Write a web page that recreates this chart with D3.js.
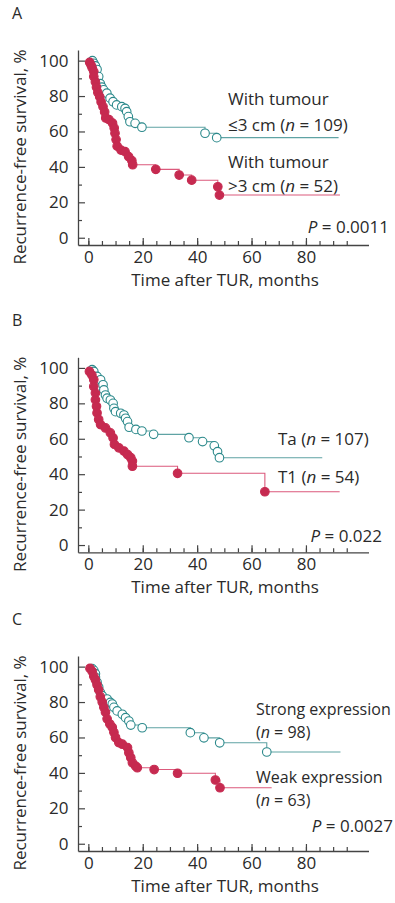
<!DOCTYPE html>
<html>
<head>
<meta charset="utf-8">
<script src="https://cdn.jsdelivr.net/npm/d3@7"></script>
<style>
  body { margin: 0; background: #fff; }
  svg text { font-family: 'Open Sans', 'DejaVu Sans', sans-serif; fill: #2a2a2a; }
</style>
</head>
<body>
<div id="chart"></div>
<script>
// survival points [months, %]
const sizeSmall = [[1.5,100],[2,98.5],[2.6,97],[3.2,95],[3.8,91],[4.4,87],[5,85],[5.6,83.5],[6.8,81.6],[8,78.8],[9.1,76.8],[10.4,75],[12.3,74],[13.5,73],[14.1,71.2],[14.7,68.4],[15.3,65.5],[17.2,64.6],[19.7,62.4],[42.9,59],[47.2,56.5]];
const sizeLarge = [[0.5,99],[1,97.5],[1.4,96],[2,93.8],[2,91],[2.6,88],[3,85],[3.5,82],[4.2,79.5],[4.7,76.7],[5.4,74],[6,71],[6.4,67.6],[7.6,66.7],[8.9,64.7],[9.5,62],[9.8,59],[10.2,55.4],[10.6,51.7],[12,49.5],[13.5,48.6],[14.8,45.8],[16,43.5],[16.3,41.2],[24.8,38.6],[33.4,35.4],[38,32.5],[47.6,28.8],[48.2,24.1]];
const stageTa = [[1.4,99],[2,98],[3.2,95.2],[4.5,93.3],[5.4,90.5],[5.7,87.6],[6.3,84.7],[6.9,82.9],[8.1,81.9],[9.1,80],[9.4,77.2],[10,75.3],[11.9,74.4],[13.1,73.4],[13.7,71.6],[14.4,69.7],[15,66.5],[17.5,65.3],[19.7,64.4],[24,62.5],[37,60.6],[42,58.4],[46.3,56],[47.5,52.7],[48.2,49.3]];
const stageT1 = [[0.4,98],[1.3,96],[2,93.3],[2,89.5],[2.6,85.8],[2.6,82],[3,78.3],[3.2,74.6],[3.8,70.9],[4.5,68],[6.3,66.1],[8.1,63.3],[9.1,60.5],[9.6,56.8],[11.2,54.9],[13.1,53],[14.4,51.1],[15.6,49.3],[16.2,47.4],[16.2,44.5],[32.8,40.5],[64.9,30.1]];
const exprStrong = [[1.4,98.9],[2,97.9],[2.6,96],[2.6,94.1],[3.2,91.2],[3.8,88.4],[4.4,85.5],[5.1,83.6],[6.9,81.7],[8.1,79.8],[8.8,78.9],[9.4,77],[10.6,75],[12.5,73.1],[13.7,71.2],[14.9,69.3],[15.6,67],[19.8,65.5],[37.5,62.7],[42.5,59.8],[48.3,57],[65.6,51.8]];
const exprWeak = [[0.6,99],[1.4,97.3],[2,94.5],[2.6,92.6],[3.2,89.7],[3.8,86.9],[4.4,83],[5.1,80],[5.7,77],[6.3,74.3],[6.9,70.5],[7.9,67.6],[8.8,65.7],[9.4,62.9],[10,60],[11.2,57.1],[12.5,56.2],[14.4,54.3],[14.9,51.4],[15.6,48.6],[16.2,45.7],[17.4,43.8],[18,42.9],[24.2,41.9],[32.8,39.8],[46.7,36],[48.4,31.6]];

// last follow-up time of each curve
const endTimes = { sizeSmall: 92, sizeLarge: 92.5, stageTa: 86, stageT1: 92.4, exprStrong: 92.7, exprWeak: 67.4 };

const xTicksMajor = [0, 20, 40, 60, 80];
const xTicksMinor = d3.range(0, 100, 5);
const yTicksMajor = [0, 20, 40, 60, 80, 100];
const yTicksMinor = [10, 30, 50, 70, 90];

const panels = [
    { letter: 'A', top: 0, good: sizeSmall, goodEnd: endTimes.sizeSmall, bad: sizeLarge, badEnd: endTimes.sizeLarge,
      labelSize: '17px',
      labels: [
        { x: 228, y: 105, parts: [['With tumour']] },
        { x: 228, y: 131, parts: [['≤3 cm ('], ['n', true], [' = 109)']] },
        { x: 228, y: 168, parts: [['With tumour']] },
        { x: 228, y: 192, parts: [['>3 cm ('], ['n', true], [' = 52)']] },
      ], p: '0.0011', pRight: 389, pY: 233 },
    { letter: 'B', top: 307.3, good: stageTa, goodEnd: endTimes.stageTa, bad: stageT1, badEnd: endTimes.stageT1,
      labelSize: '17px',
      labels: [
        { x: 278, y: 445, parts: [['Ta ('], ['n', true], [' = 107)']] },
        { x: 278, y: 483, parts: [['T1 ('], ['n', true], [' = 54)']] },
      ], p: '0.022', pRight: 382, pY: 542 },
    { letter: 'C', top: 606, good: exprStrong, goodEnd: endTimes.exprStrong, bad: exprWeak, badEnd: endTimes.exprWeak,
      labelSize: '16px',
      labels: [
        { x: 256, y: 715, parts: [['Strong expression']] },
        { x: 256, y: 738, parts: [['('], ['n', true], [' = 98)']] },
        { x: 256, y: 783, parts: [['Weak expression']] },
        { x: 256, y: 806, parts: [['('], ['n', true], [' = 63)']] },
      ], p: '0.0027', pRight: 393, pY: 832 },
];

const teal = '#2b898b';
const tealLine = '#5fa3a4';
const red = '#c62a50';
const redLine = '#dc5a7c';
const fontSize = '17px';

const svg = d3.select('#chart')
    .append('svg')
    .attr('width', 395)
    .attr('height', 903);

const xScale = d3.scaleLinear()
    .domain([-3.8, 103])
    .range([78, 368.5]);

panels.forEach((pn) => {
    const g = svg.append('g').attr('transform', `translate(0, ${pn.top})`);

    const yScale = d3.scaleLinear()
        .domain([-4.1, 106])
        .range([245, 50]);

    g.append('text')
        .attr('x', 12)
        .attr('y', 19)
        .style('font-size', '16px')
        .text(pn.letter);

    // axes, ticks pointing inward
    const axisStyle = (sel) => {
        sel.select('.domain').attr('stroke', '#444').attr('stroke-width', 1.3);
        sel.selectAll('.tick line').attr('stroke', '#444').attr('stroke-width', 1.2);
        sel.selectAll('text').style('font-size', fontSize).attr('fill', '#2a2a2a');
    };

    g.append('g')
        .attr('transform', `translate(0, 245)`)
        .call(d3.axisBottom(xScale).tickValues(xTicksMinor).tickSizeInner(-4).tickSizeOuter(0).tickFormat(''))
        .call(axisStyle);
    g.append('g')
        .attr('transform', `translate(0, 245)`)
        .call(d3.axisBottom(xScale).tickValues(xTicksMajor).tickSizeInner(-7).tickSizeOuter(0).tickPadding(6))
        .call(axisStyle)
        .call((s) => s.select('.domain').remove());

    g.append('g')
        .attr('transform', `translate(78, 0)`)
        .call(d3.axisLeft(yScale).tickValues(yTicksMinor).tickSizeInner(-4).tickSizeOuter(0).tickFormat(''))
        .call(axisStyle);
    g.append('g')
        .attr('transform', `translate(78, 0)`)
        .call(d3.axisLeft(yScale).tickValues(yTicksMajor).tickSizeInner(-7).tickSizeOuter(0).tickPadding(9.5))
        .call(axisStyle)
        .call((s) => s.select('.domain').remove());

    g.append('text')
        .attr('transform', 'rotate(-90)')
        .attr('x', -157)
        .attr('y', 26)
        .attr('text-anchor', 'middle')
        .style('font-size', fontSize)
        .text('Recurrence-free survival, %');

    g.append('text')
        .attr('x', 225)
        .attr('y', 286)
        .attr('text-anchor', 'middle')
        .style('font-size', fontSize)
        .text('Time after TUR, months');

    const line = d3.line()
        .x((d) => xScale(d[0]))
        .y((d) => yScale(d[1]))
        .curve(d3.curveStepAfter);

    const drawCurve = (pts, end, lineColor, stroke, fill) => {
        const full = pts.concat([[end, pts[pts.length - 1][1]]]);
        g.append('path')
            .attr('d', line(full))
            .attr('fill', 'none')
            .attr('stroke', lineColor)
            .attr('stroke-width', 1.1);
        g.append('g')
            .selectAll('circle')
            .data(pts)
            .enter()
            .append('circle')
            .attr('cx', (d) => xScale(d[0]))
            .attr('cy', (d) => yScale(d[1]))
            .attr('r', 4.3)
            .attr('fill', fill)
            .attr('stroke', stroke)
            .attr('stroke-width', 1.1);
    };

    drawCurve(pn.good, pn.goodEnd, tealLine, teal, '#fff');
    drawCurve(pn.bad, pn.badEnd, redLine, red, red);

    pn.labels.forEach((lb) => {
        const t = svg.append('text')
            .attr('x', lb.x)
            .attr('y', lb.y)
            .style('font-size', pn.labelSize);
        lb.parts.forEach((p) => {
            t.append('tspan')
                .style('font-style', p[1] ? 'italic' : 'normal')
                .text(p[0]);
        });
    });

    const pt = svg.append('text')
        .attr('x', pn.pRight)
        .attr('y', pn.pY)
        .attr('text-anchor', 'end')
        .style('font-size', fontSize);
    pt.append('tspan').style('font-style', 'italic').text('P');
    pt.append('tspan').text(' = ' + pn.p);
});
</script>
</body>
</html>
